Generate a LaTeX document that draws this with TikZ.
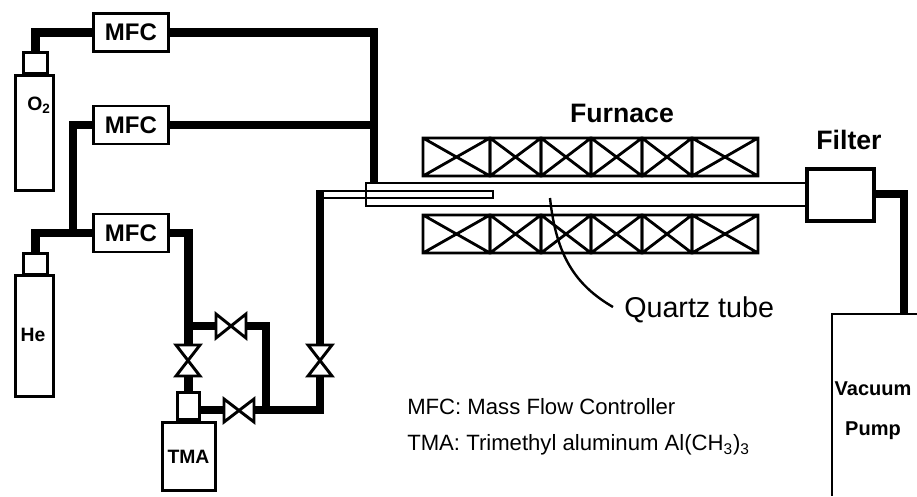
\documentclass[tikz,border=0pt]{standalone}
\usepackage{fontspec}
\setmainfont{Liberation Sans}
\newcommand{\fsz}[1]{\fontsize{#1}{#1}\selectfont}
\begin{document}
\begin{tikzpicture}[x=0.75pt, y=-0.75pt,
        every node/.style = {inner sep=0pt},
        box/.style = {shape=rectangle, draw, line width=2.2pt, anchor=north west},
        mfcbox/.style = {box, minimum width=56.25pt, minimum height=28.5pt, font=\bfseries\fsz{18}},
        pipe/.style = {line width=6.4pt, line cap=butt, line join=miter},
        valve/.style = {line width=2.2pt, line join=miter},
        heat/.style = {line width=2.1pt},
        lbl/.style = {font=\bfseries\fsz{14.5}},
        note/.style = {anchor=west, font=\fsz{16.6}}]
    \useasboundingbox (0,0) rectangle (917,496);
    % mass flow controllers
    \node[mfcbox] (mfca) at (92,12) {MFC};
    \node[mfcbox] (mfcb) at (92,104.5) {MFC};
    \node[mfcbox] (mfcc) at (92,212.5) {MFC};
    % cylinders
    \node[box, minimum width=18pt, minimum height=15.5pt] (necka) at (22,51) {};
    \node[box, minimum width=28.5pt, minimum height=86pt] (oxy) at (14,74) {};
    \node[lbl] at (39,105) {O\textsubscript{2}};
    \node[box, minimum width=18pt, minimum height=15.5pt] (neckb) at (22,252) {};
    \node[box, minimum width=28.5pt, minimum height=91pt] (hel) at (14,274) {};
    \node[lbl] at (33,335) {He};
    \node[box, minimum width=16.5pt, minimum height=20pt] (neckc) at (176,391) {};
    \node[box, minimum width=39.5pt, minimum height=51pt] (tma) at (161,421) {};
    \node[lbl] at (188.5,457) {TMA};
    % gas lines
    \draw[pipe] (necka.north) |- (mfca.west);
    \draw[pipe] (mfca.east) -| (374,183);
    \draw[pipe] (mfcb.east) -- (mfcb.east -| 374,0);
    \draw[pipe] (mfcb.west) -| (mfcc.west -| 73,0);
    \draw[pipe] (neckb.north) |- (mfcc.west);
    \draw[pipe] (mfcc.east) -| (188.5,346);
    \draw[pipe] (neckc.north |- 0,376) -- (neckc.north);
    \draw[pipe] (188,326) -- (216,326);
    \draw[pipe] (246,326) -| (266,410);
    \draw[pipe] (neckc.east |- 0,410) -- (224,410);
    \draw[pipe] (254,410) -| (320,376);
    \draw[pipe] (320,346) -- (320,190);
    \draw[line width=2pt] (316,191) -- (366,191) (324,198) -- (366,198);
    % valves
    \draw[valve] (176,345) -- (200,345) -- (176,376) -- (200,376) -- cycle;
    \draw[valve] (308,345) -- (332,345) -- (308,376) -- (332,376) -- cycle;
    \draw[valve] (216,314) -- (216,338) -- (246,314) -- (246,338) -- cycle;
    \draw[valve] (224,399) -- (224,422) -- (254,399) -- (254,422) -- cycle;
    % furnace
    \foreach \xa/\xb in {423/490,490/541,541/591,591/642,642/692,692/758} {
        \draw[heat] (\xa,138) rectangle (\xb,176) (\xa,138) -- (\xb,176) (\xa,176) -- (\xb,138);
        \draw[heat] (\xa,215) rectangle (\xb,253) (\xa,215) -- (\xb,253) (\xa,253) -- (\xb,215);
    }
    \node[lbl, font=\bfseries\fsz{20}] (furn) at (622,113) {Furnace};
    % tube and filter
    \draw[line width=2pt] (806,183) -- (366,183) -- (366,206) -- (806,206);
    \draw[line width=2pt] (366,191) -- (493,191) -- (493,198) -- (366,198);
    \node[box, line width=3pt, minimum width=50pt, minimum height=39pt] (filt) at (805,167) {};
    \node[lbl, font=\bfseries\fsz{20}] at (849,140) {Filter};
    \draw[pipe] (filt.east |- 0,194) -| (904,314);
    % pump
    \draw[line width=2.2pt] (917,314) -- (832,314) -- (832,496);
    \node[lbl, font=\bfseries\fsz{15}] at (873,389) {Vacuum};
    \node[lbl, font=\bfseries\fsz{15}] at (873,431) {Pump};
    % labels
    \draw[line width=1.8pt] (550,198) .. controls (556,255) and (575,285) .. (613,307);
    \node[font=\fsz{21.5}, anchor=west] (qtz) at (624,310) {Quartz tube};
    \node[note] (lmfc) at (407,407) {MFC: Mass Flow Controller};
    \node[note] (ltma) at (407,445) {TMA: Trimethyl aluminum Al(CH\textsubscript{3})\textsubscript{3}};
\end{tikzpicture}
\end{document}
